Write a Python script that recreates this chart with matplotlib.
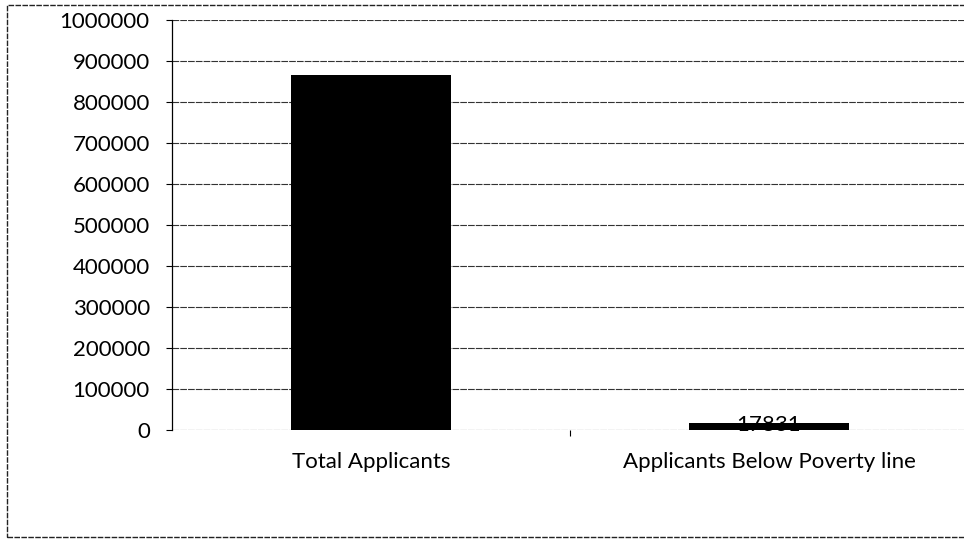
import matplotlib
matplotlib.use("Agg")
import matplotlib.pyplot as plt
from matplotlib.patches import Rectangle

categories = ["Total Applicants", "Applicants Below Poverty line"]
values = [866000, 17831]
value_labels = ["", "17831"]
y_ticks = list(range(0, 1000001, 100000))

plt.rcParams['font.family'] = ['Lato', 'DejaVu Sans']

fig = plt.figure(figsize=(9.64, 5.4), dpi=100)
# outer chart border
fig.patches.append(Rectangle((7 / 964, 3 / 540), 1.0, 532 / 540, transform=fig.transFigure,
                             fill=False, edgecolor="#222222", linewidth=1.0, linestyle=(0, (4, 1))))

ax = fig.add_axes([172 / 964, 110 / 540, 796 / 964, 410 / 540])
x = list(range(len(categories)))
ax.bar(x, values, width=0.4, color="black", zorder=3)

ax.set_xlim(-0.5, 1.5)
ax.set_ylim(0, 1000000)
ax.set_yticks(y_ticks)
ax.set_yticklabels([str(t) for t in y_ticks], fontsize=16)
ax.set_xticks(x)
ax.set_xticklabels(categories, fontsize=16)
ax.tick_params(axis="x", length=0, pad=16)
ax.tick_params(axis="y", length=4, width=0.8, direction="out", pad=12)
ax.set_xticks([0.5], minor=True)
ax.tick_params(axis="x", which="minor", length=4, width=0.8, direction="out")

ax.yaxis.grid(True, color="#333333", linewidth=0.8, linestyle=(0, (6, 1)), zorder=0)
for side in ["top", "right", "bottom"]:
    ax.spines[side].set_visible(False)
ax.spines["left"].set_linewidth(0.9)

for xi, v, lbl in zip(x, values, value_labels):
    if lbl:
        ax.text(xi, v, lbl, ha="center", va="center_baseline", fontsize=16, zorder=4)

fig.savefig("out.png", dpi=100)
